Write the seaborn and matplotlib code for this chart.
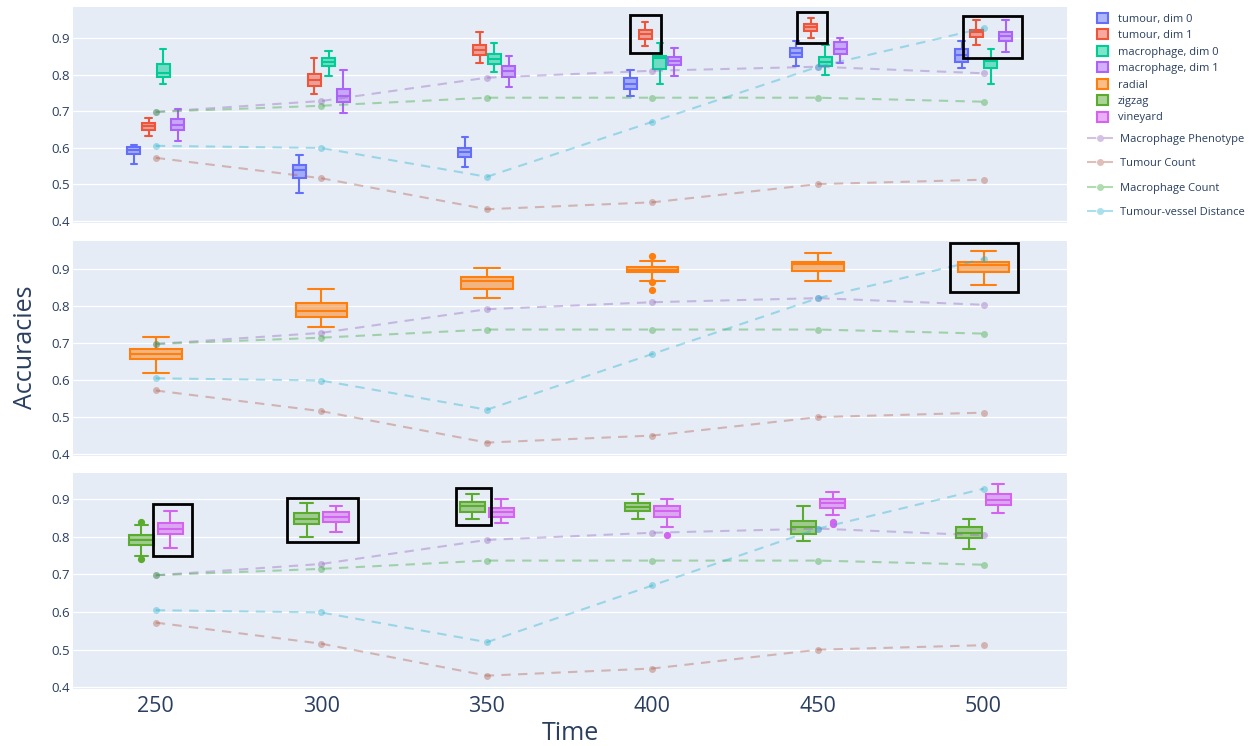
import matplotlib
matplotlib.use("Agg")
import matplotlib.pyplot as plt
from matplotlib.colors import to_rgba
from matplotlib.lines import Line2D
from matplotlib.patches import Patch, Rectangle
import pandas as pd
import seaborn as sns

# ---- data -----------------------------------------------------------------
times = [250, 300, 350, 400, 450, 500]

# box summaries per time point: (whisker low, q1, median, q3, whisker high)
tumour_dim0 = [(0.555, 0.582, 0.594, 0.603, 0.606), (0.475, 0.518, 0.539, 0.553, 0.579),
               (0.548, 0.575, 0.587, 0.600, 0.630), (0.741, 0.760, 0.776, 0.792, 0.812),
               (0.825, 0.850, 0.861, 0.873, 0.893), (0.818, 0.836, 0.855, 0.870, 0.893)]
tumour_dim1 = [(0.632, 0.649, 0.659, 0.667, 0.681), (0.748, 0.770, 0.786, 0.802, 0.846),
               (0.832, 0.855, 0.868, 0.882, 0.916), (0.879, 0.899, 0.912, 0.923, 0.946),
               (0.902, 0.921, 0.931, 0.939, 0.957), (0.882, 0.903, 0.917, 0.923, 0.949)]
macro_dim0 = [(0.775, 0.793, 0.806, 0.829, 0.872), (0.797, 0.825, 0.835, 0.846, 0.866),
              (0.807, 0.830, 0.843, 0.857, 0.886), (0.774, 0.815, 0.845, 0.852, 0.886),
              (0.800, 0.825, 0.836, 0.850, 0.882), (0.774, 0.818, 0.838, 0.843, 0.871)]
macro_dim1 = [(0.619, 0.649, 0.663, 0.678, 0.707), (0.696, 0.726, 0.742, 0.760, 0.812),
              (0.767, 0.793, 0.809, 0.825, 0.852), (0.797, 0.827, 0.838, 0.850, 0.873),
              (0.832, 0.857, 0.870, 0.890, 0.900), (0.862, 0.892, 0.905, 0.917, 0.949)]
radial = [(0.619, 0.656, 0.670, 0.683, 0.717), (0.745, 0.770, 0.786, 0.808, 0.847),
          (0.822, 0.846, 0.868, 0.879, 0.904), (0.869, 0.892, 0.899, 0.907, 0.923),
          (0.868, 0.895, 0.914, 0.921, 0.944), (0.858, 0.892, 0.911, 0.919, 0.950)]
radial_out = [[], [], [], [0.937, 0.865, 0.843], [], []]
zigzag = [(0.749, 0.779, 0.792, 0.805, 0.832), (0.801, 0.834, 0.848, 0.863, 0.889),
          (0.847, 0.867, 0.882, 0.894, 0.913), (0.847, 0.870, 0.880, 0.889, 0.913),
          (0.790, 0.807, 0.827, 0.842, 0.882), (0.767, 0.796, 0.810, 0.825, 0.848)]
zigzag_out = [[0.840, 0.740], [], [], [], [], []]
vineyard = [(0.770, 0.807, 0.821, 0.836, 0.869), (0.814, 0.840, 0.853, 0.865, 0.882),
            (0.838, 0.854, 0.865, 0.876, 0.902), (0.827, 0.854, 0.869, 0.883, 0.902),
            (0.858, 0.878, 0.889, 0.900, 0.919), (0.864, 0.885, 0.899, 0.913, 0.940)]
vineyard_out = [[], [], [], [0.804], [0.840, 0.833], []]
no_out = [[], [], [], [], [], []]

# reference lines
macrophage_phenotype = [0.698, 0.728, 0.792, 0.811, 0.822, 0.804]
tumour_count = [0.572, 0.516, 0.431, 0.450, 0.500, 0.512]
macrophage_count = [0.698, 0.715, 0.737, 0.737, 0.737, 0.726]
tumour_vessel = [0.605, 0.599, 0.520, 0.671, 0.822, 0.928]

# highlight boxes: (panel, x0, x1, y0, y1)
highlights = [(0, 393.2, 402.5, 0.859, 0.963), (0, 443.7, 452.6, 0.888, 0.971),
              (0, 493.8, 511.7, 0.846, 0.962), (1, 490.0, 510.3, 0.839, 0.970),
              (2, 249.3, 260.9, 0.749, 0.887), (2, 289.7, 311.2, 0.787, 0.903),
              (2, 340.6, 351.2, 0.831, 0.931)]

# ---- styling ----------------------------------------------------------------
TXT = "#2a3f5f"
sns.set_theme(style="darkgrid", rc={
    "axes.facecolor": "#E5ECF6", "grid.color": "white", "grid.linewidth": 0.9,
    "axes.edgecolor": "#E5ECF6", "xtick.color": TXT, "ytick.color": TXT,
})
plt.rcParams["font.family"] = ["Open Sans", "DejaVu Sans"]

panels = [
    [("tumour, dim 0", "#636efa", tumour_dim0, no_out, -6.65),
     ("tumour, dim 1", "#EF553B", tumour_dim1, no_out, -2.2),
     ("macrophage, dim 0", "#00cc96", macro_dim0, no_out, 2.2),
     ("macrophage, dim 1", "#ab63fa", macro_dim1, no_out, 6.65)],
    [("radial", "#ff7f0e", radial, radial_out, 0.0)],
    [("zigzag", "#5aab2e", zigzag, zigzag_out, -4.4),
     ("vineyard", "#d463f0", vineyard, vineyard_out, 4.4)],
]
box_widths = [3.9, 15.6, 7.6]
ylims = [(0.3945, 0.9867), (0.3946, 0.9774), (0.3947, 0.969)]
axes_rect = [(0.0582, 0.7017, 0.7961, 0.2893), (0.0582, 0.3887, 0.7961, 0.2886),
             (0.0582, 0.0760, 0.7961, 0.2895)]

line_colors = {"Macrophage Phenotype": "#9467bd", "Tumour Count": "#b25f4e",
               "Macrophage Count": "#3aa83a", "Tumour-vessel Distance": "#2bb3cf"}
lines_df = pd.DataFrame({
    "Time": times * 4,
    "Accuracy": macrophage_phenotype + tumour_count + macrophage_count + tumour_vessel,
    "Metric": (["Macrophage Phenotype"] * 6 + ["Tumour Count"] * 6
               + ["Macrophage Count"] * 6 + ["Tumour-vessel Distance"] * 6),
})
DASH = (0, (4.5, 3.5))

fig = plt.figure(figsize=(12.49, 7.46), dpi=100)
axes = []
for i, series in enumerate(panels):
    ax = fig.add_axes(axes_rect[i])
    axes.append(ax)
    w = box_widths[i]
    for name, color, summ, outs, off in series:
        stats = []
        for s, o in zip(summ, outs):
            stats.append({"whislo": s[0], "q1": s[1], "med": s[2], "q3": s[3],
                          "whishi": s[4], "fliers": o})
        ax.bxp(stats, positions=[t + off for t in times], widths=w,
               capwidths=w * 0.5, patch_artist=True, manage_ticks=False,
               boxprops=dict(facecolor=to_rgba(color, 0.5), edgecolor=color, linewidth=1.5),
               medianprops=dict(color=color, linewidth=1.5),
               whiskerprops=dict(color=color, linewidth=1.5),
               capprops=dict(color=color, linewidth=1.5),
               flierprops=dict(marker="o", markersize=4.2, markerfacecolor=color,
                               markeredgecolor=color, linestyle="none"))
    sns.lineplot(data=lines_df, x="Time", y="Accuracy", hue="Metric",
                 palette=line_colors, marker="o", markersize=5, markeredgewidth=0,
                 linestyle=DASH, linewidth=1.5, alpha=0.4, errorbar=None,
                 legend=False, ax=ax, zorder=4)
    ax.set_xlim(224.9, 525.2)
    ax.set_ylim(*ylims[i])
    ax.set_yticks([0.4, 0.5, 0.6, 0.7, 0.8, 0.9])
    ax.set_yticklabels(["0.4", "0.5", "0.6", "0.7", "0.8", "0.9"], fontsize=9.5)
    ax.set_xticks(times)
    ax.grid(axis="x", visible=False)
    ax.tick_params(axis="both", length=0, pad=2)
    ax.set_xlabel("")
    ax.set_ylabel("")
    for sp in ax.spines.values():
        sp.set_visible(False)
    if i < 2:
        ax.set_xticklabels([])
    else:
        ax.set_xticklabels([str(t) for t in times], fontsize=15.5)
        ax.tick_params(axis="x", pad=5)

for p, x0, x1, y0, y1 in highlights:
    axes[p].add_patch(Rectangle((x0, y0), x1 - x0, y1 - y0, fill=False,
                                edgecolor="black", linewidth=2, zorder=6, clip_on=False))

fig.text(26 / 1249, 1 - 347 / 746, "Accuracies", rotation=90, ha="center", va="center",
         fontsize=18, color=TXT)
fig.text(570 / 1249, 1 - 733 / 746, "Time", ha="center", va="center",
         fontsize=18, color=TXT)

# legends
box_handles = []
for series in panels:
    for name, color, *_ in series:
        box_handles.append(Patch(facecolor=to_rgba(color, 0.5), edgecolor=color,
                                 linewidth=1.5, label=name))
leg1 = fig.legend(handles=box_handles, loc="upper left",
                  bbox_to_anchor=(1097 / 1249, 1 - 13 / 746), frameon=False,
                  fontsize=8, handlelength=1.0, handleheight=1.0, labelspacing=0.42,
                  handletextpad=0.9, borderpad=0, borderaxespad=0)
for t in leg1.get_texts():
    t.set_color(TXT)

line_handles = [Line2D([0], [0], color=c, alpha=0.4, linestyle=DASH, linewidth=1.5,
                       marker="o", markersize=5, markeredgewidth=0, label=n)
                for n, c in line_colors.items()]
leg2 = fig.legend(handles=line_handles, loc="upper left",
                  bbox_to_anchor=(1087 / 1249, 1 - 134 / 746), frameon=False,
                  fontsize=8, handlelength=2.4, labelspacing=1.2, handletextpad=0.6,
                  borderpad=0, borderaxespad=0)
for t in leg2.get_texts():
    t.set_color(TXT)

fig.savefig("out.png", dpi=100)
